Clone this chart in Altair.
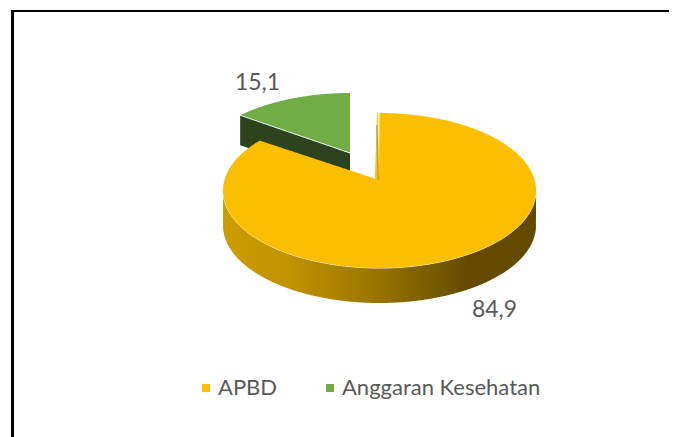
import math
import altair as alt
import pandas as pd

categories = ["APBD", "Anggaran Kesehatan"]
values = [84.9, 15.1]
colors = ["#fcbf00", "#70ad47"]
TEXT = "#595959"

# Pie geometry in page pixels (the scales below map these 1:1)
CX, CY, RX, RY = 379.5, 190.5, 156.5, 77.5
DEPTH = 35
APEX = (379.0, 180.0)
G_CX, G_CY = 350.0, 170.5
G_APEX = (350.0, 153.0)
G_DEPTH = 30
YELLOW_START = -1.0
GAP_VIEW = 0.9      # foreshortening of the slice angle, main slice
GREEN_VIEW = 0.82   # same, exploded slice


def ex(cx, t):
    return cx + RX * math.sin(math.radians(t))


def ey(cy, t):
    return cy - RY * math.cos(math.radians(t))


def low(x, cx=CX, cy=CY, rx=RX, ry=RY):
    u = max(0.0, 1 - ((x - cx) / rx) ** 2)
    return cy + ry * math.sqrt(u)


def lerp(p, q, x):
    return p[1] + (q[1] - p[1]) * (x - p[0]) / (q[0] - p[0])


gap = (360 - values[0] * 3.6) * GAP_VIEW
t_end = YELLOW_START - gap
corner = (ex(CX, t_end), ey(CY, t_end))
top_start = (ex(CX, YELLOW_START), ey(CY, YELLOW_START))

# Main slice top face
rows = []
for i in range(0, 361):
    t = -90 + i * 0.5
    x = ex(CX, t)
    if t <= t_end:
        y = 2 * CY - low(x)
    elif t < YELLOW_START:
        continue
    else:
        y = ey(CY, t)
    rows.append(dict(x=x, y=y, y2=low(x), name=categories[0]))
for i in range(0, 61):
    x = corner[0] + (APEX[0] - corner[0]) * i / 60
    rows.append(dict(x=x, y=lerp(corner, APEX, x), y2=low(x), name=categories[0]))
rows.append(dict(x=top_start[0] + 0.4, y=top_start[1], y2=low(top_start[0]), name=categories[0]))
main_top = pd.DataFrame(rows).sort_values("x", kind="stable")

# Main slice wall
wall_rows = []
for i in range(0, 361):
    t = -90 + i * 0.5
    x = ex(CX, t)
    bottom = low(x) + DEPTH
    if t < -88 or t > 88:
        bottom = low(x) + DEPTH * 0.75
    wall_rows.append(dict(x=x, y=low(x), y2=bottom))
main_wall = pd.DataFrame(wall_rows)
edge = main_wall[["x", "y"]]

# Exploded slice
t0 = -values[1] * 3.6 * GREEN_VIEW
tip = (ex(G_CX, t0), ey(G_CY, t0))
g_rows = []
w_rows = []
for i in range(0, 121):
    t = t0 + (0 - t0) * i / 120
    x = ex(G_CX, t)
    chord = lerp(tip, G_APEX, x)
    g_rows.append(dict(x=x, y=ey(G_CY, t), y2=chord, name=categories[1]))
    w_rows.append(dict(x=x, y=chord, y2=chord + G_DEPTH))
green_top = pd.DataFrame(g_rows)
green_wall = pd.DataFrame(w_rows)
green_edge = green_wall[["x", "y"]]

x_s = alt.Scale(domain=[8, 669], range=[0, 661], nice=False, zero=False)
y_s = alt.Scale(domain=[437, 8], range=[429, 0], nice=False, zero=False)
X = alt.X("x:Q", scale=x_s, axis=None)
Y = alt.Y("y:Q", scale=y_s, axis=None)
color = alt.Color(
    "name:N",
    scale=alt.Scale(domain=categories, range=colors),
    legend=alt.Legend(
        title=None,
        orient="none",
        legendX=187,
        legendY=369,
        direction="horizontal",
        symbolType="square",
        symbolSize=64,
        symbolStrokeWidth=0,
        labelFont="Lato",
        labelFontSize=22,
        labelColor=TEXT,
        labelOffset=1,
        labelLimit=400,
        columnPadding=41,
        padding=0,
    ),
)

wall_grad = alt.Gradient(
    gradient="linear", x1=0, y1=0, x2=1, y2=0,
    stops=[
        alt.GradientStop(offset=0, color="#cc9c00"),
        alt.GradientStop(offset=0.2, color="#c29400"),
        alt.GradientStop(offset=0.5, color="#987300"),
        alt.GradientStop(offset=0.78, color="#644b00"),
        alt.GradientStop(offset=1, color="#634a00"),
    ],
)

frame = pd.DataFrame([
    dict(x=11, x2=669, y=10, y2=12),
    dict(x=11, x2=14, y=10, y2=437),
])
frame_l = alt.Chart(frame).mark_rect(color="#000000").encode(
    x=alt.X("x:Q", scale=x_s, axis=None), x2="x2:Q",
    y=alt.Y("y:Q", scale=y_s, axis=None), y2="y2:Q",
)

g_wall = alt.Chart(green_wall).mark_area(color="#2c431d").encode(x=X, y=Y, y2="y2:Q")
g_top = alt.Chart(green_top).mark_area().encode(x=X, y=Y, y2="y2:Q", color=color)
g_edge = alt.Chart(green_edge).mark_line(color="#ffffff", strokeWidth=1).encode(x=X, y=Y)
m_wall = alt.Chart(main_wall).mark_area(color=wall_grad).encode(x=X, y=Y, y2="y2:Q")
m_top = alt.Chart(main_top).mark_area().encode(x=X, y=Y, y2="y2:Q", color=color)
m_edge = alt.Chart(edge).mark_line(color="#ffffff", strokeWidth=1).encode(x=X, y=Y)
inner = alt.Chart(pd.DataFrame([dict(x=376.6, y=125), dict(x=378.4, y=180)])).mark_line(
    color="#9c8a5a", strokeWidth=1.2, opacity=0.7
).encode(x=X, y=Y, order="y:Q")

labels = pd.DataFrame({
    "label": [str(v).replace(".", ",") for v in values],
    "x": [494.5, 257.5],
    "y": [310, 83],
})
lab = alt.Chart(labels).mark_text(
    font="Lato", fontSize=23, color=TEXT, align="center", baseline="middle"
).encode(x=X, y=Y, text="label:N")

chart = alt.layer(
    frame_l, g_wall, g_top, g_edge, m_wall, m_edge, m_top, inner, lab
).properties(
    width=661, height=429, padding=0,
    autosize=alt.AutoSizeParams(type="none"),
    background="#ffffff",
).configure_view(stroke=None)

chart.save("out.html", embed_options={"renderer": "svg", "actions": False})
